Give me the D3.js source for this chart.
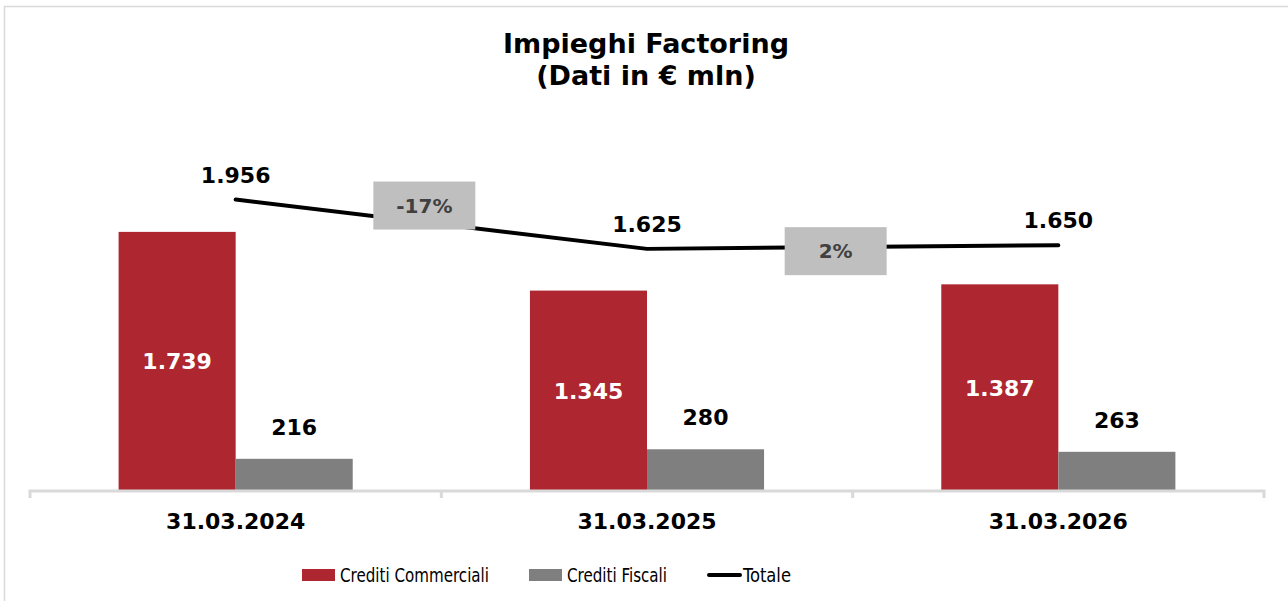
<!DOCTYPE html>
<html>
<head>
<meta charset="utf-8">
<script src="https://cdn.jsdelivr.net/npm/d3@7"></script>
<style>
  body { margin: 0; background: #fff; }
  svg text { font-family: "DejaVu Sans", Verdana, sans-serif; }
</style>
</head>
<body>
<svg class="chart"></svg>
<script>
// data (€ mln)
const categories = ["31.03.2024", "31.03.2025", "31.03.2026"]
const commerciali = [1739, 1345, 1387]
const fiscali = [216, 280, 263]
const totale = [1956, 1625, 1650]
const growth = ["-17%", "2%"]
const seriesNames = ["Crediti Commerciali", "Crediti Fiscali", "Totale"]

const colors = { comm: "#ae2630", fisc: "#7f7f7f", tot: "#000000", box: "#bfbfbf" }

const width = 1288, height = 601

const svg = d3.select("svg.chart")
    .attr("width", width)
    .attr("height", height)

// italian number format: 1.739
const it = d3.formatLocale({ decimal: ",", thousands: ".", grouping: [3], currency: ["€", ""] })
const fmt = it.format(",d")

// outer frame
svg.append("rect")
    .attr("x", 4.5).attr("y", 6.5)
    .attr("width", 1300).attr("height", 620)
    .attr("fill", "none")
    .attr("stroke", "#d9d9d9")
    .attr("stroke-width", 1.5)

// title
const title = svg.append("text")
    .attr("x", 646).attr("y", 53)
    .attr("text-anchor", "middle")
    .style("font-weight", "bold")
    .style("font-size", "27px")
    .attr("fill", "#000")
title.append("tspan").attr("x", 646).text("Impieghi Factoring")
title.append("tspan").attr("x", 646).attr("dy", 32).text("(Dati in € mln)")

const x = d3.scaleBand()
    .domain(categories)
    .range([30, 1264])
    .padding(0)

const xInner = d3.scaleBand()
    .domain(["comm", "fisc"])
    .range([0, x.bandwidth()])
    .paddingInner(0)
    .paddingOuter(0.757)

const y = d3.scaleLinear()
    .domain([0, 2500])
    .range([491, 118.5])

const plot = svg.append("g")

// bars
const groups = plot.selectAll("g.cat")
    .data(categories)
    .enter()
    .append("g")
    .attr("class", "cat")
    .attr("transform", d => `translate(${x(d)},0)`)

groups.append("rect")
    .attr("x", xInner("comm"))
    .attr("width", xInner.bandwidth())
    .attr("y", (d, i) => y(commerciali[i]))
    .attr("height", (d, i) => y(0) - y(commerciali[i]))
    .attr("fill", colors.comm)

groups.append("rect")
    .attr("x", xInner("fisc"))
    .attr("width", xInner.bandwidth())
    .attr("y", (d, i) => y(fiscali[i]))
    .attr("height", (d, i) => y(0) - y(fiscali[i]))
    .attr("fill", colors.fisc)

// x axis
const xAxis = d3.axisBottom(x)
    .tickSize(0)
    .tickPadding(22)

const axisG = svg.append("g")
    .attr("transform", `translate(0,${y(0)})`)
    .call(xAxis)

axisG.select(".domain")
    .attr("stroke", "#d9d9d9")
    .attr("stroke-width", 3)
    .attr("d", `M30,7V0H1264V7`)

axisG.selectAll(".tick text")
    .style("font-size", "22px")
    .style("font-weight", "bold")
    .attr("fill", "#000")

// separators between categories
axisG.selectAll("line.sep")
    .data(categories.slice(1))
    .enter()
    .append("line")
    .attr("class", "sep")
    .attr("x1", d => x(d)).attr("x2", d => x(d))
    .attr("y1", 0).attr("y2", 7)
    .attr("stroke", "#d9d9d9")
    .attr("stroke-width", 3)

// value labels on bars
groups.append("text")
    .attr("x", xInner("comm") + xInner.bandwidth() / 2)
    .attr("y", (d, i) => (y(commerciali[i]) + y(0)) / 2 + 8)
    .attr("text-anchor", "middle")
    .style("font-size", "22px")
    .style("font-weight", "bold")
    .attr("fill", "#fff")
    .text((d, i) => fmt(commerciali[i]))

groups.append("text")
    .attr("x", xInner("fisc") + xInner.bandwidth() / 2)
    .attr("y", (d, i) => y(fiscali[i]) - 24)
    .attr("text-anchor", "middle")
    .style("font-size", "22px")
    .style("font-weight", "bold")
    .attr("fill", "#000")
    .text((d, i) => fmt(fiscali[i]))

// totale line
const cx = d => x(d) + x.bandwidth() / 2

const line = d3.line()
    .x((d, i) => cx(categories[i]))
    .y(d => y(d))

plot.append("path")
    .datum(totale)
    .attr("d", line)
    .attr("fill", "none")
    .attr("stroke", colors.tot)
    .attr("stroke-width", 4)
    .attr("stroke-linecap", "round")
    .attr("stroke-linejoin", "round")

plot.selectAll("text.tot")
    .data(totale)
    .enter()
    .append("text")
    .attr("class", "tot")
    .attr("x", (d, i) => cx(categories[i]))
    .attr("y", d => y(d) - 17)
    .attr("text-anchor", "middle")
    .style("font-size", "22px")
    .style("font-weight", "bold")
    .attr("fill", "#000")
    .text(d => fmt(d))

// growth boxes between the years
const boxW = 102, boxH = 48
const boxes = plot.selectAll("g.growth")
    .data(growth)
    .enter()
    .append("g")
    .attr("class", "growth")
    .attr("transform", (d, i) => {
        const bx = (cx(categories[i]) + cx(categories[i + 1])) / 2 - 17
        const by = y(Math.max(totale[i], totale[i + 1])) + 6
        return `translate(${bx},${by})`
    })

boxes.append("rect")
    .attr("x", -boxW / 2).attr("y", -boxH / 2)
    .attr("width", boxW).attr("height", boxH)
    .attr("fill", colors.box)

boxes.append("text")
    .attr("text-anchor", "middle")
    .attr("y", 7)
    .style("font-size", "20px")
    .style("font-weight", "bold")
    .attr("fill", "#404040")
    .text(d => d)

// legend
const legend = svg.append("g").attr("transform", "translate(0,575)")
const legendX = [302, 529, 707]
const legendTextW = [149, 100, 48]

const items = legend.selectAll("g")
    .data(seriesNames)
    .enter()
    .append("g")
    .attr("transform", (d, i) => `translate(${legendX[i]},0)`)

items.each(function(d, i) {
    const g = d3.select(this)
    if (i < 2) {
        g.append("rect")
            .attr("x", 0).attr("y", -6)
            .attr("width", 33).attr("height", 12)
            .attr("fill", i === 0 ? colors.comm : colors.fisc)
    } else {
        g.append("line")
            .attr("x1", 2).attr("x2", 33)
            .attr("y1", 0).attr("y2", 0)
            .attr("stroke", colors.tot)
            .attr("stroke-width", 4)
            .attr("stroke-linecap", "round")
    }
    g.append("text")
        .attr("x", i < 2 ? 38 : 36)
        .attr("y", 7)
        .attr("textLength", legendTextW[i])
        .attr("lengthAdjust", "spacingAndGlyphs")
        .style("font-family", "'DejaVu Sans Condensed', 'DejaVu Sans', sans-serif")
        .style("font-size", "19px")
        .attr("fill", "#000")
        .text(d)
})
</script>
</body>
</html>
